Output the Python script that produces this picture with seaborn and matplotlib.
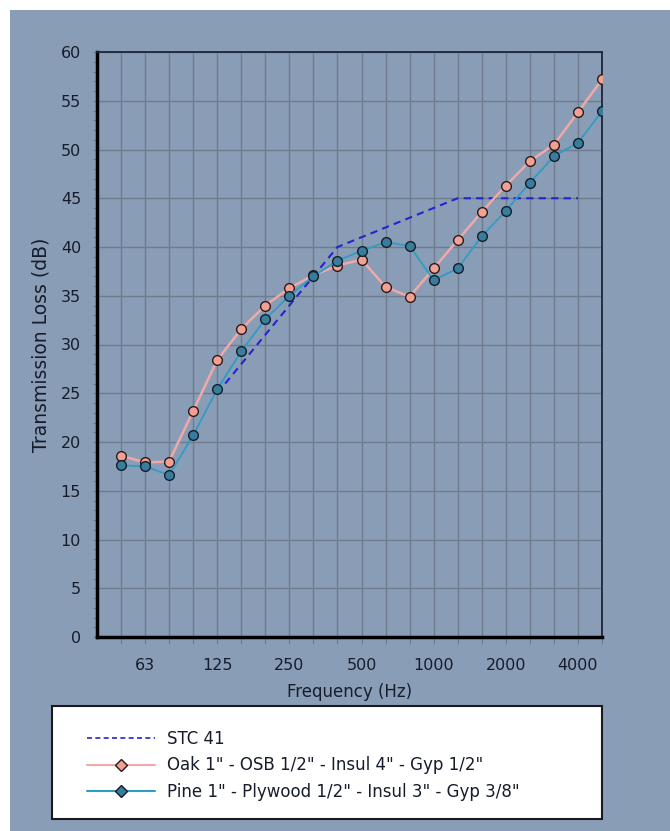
import numpy as np
import pandas as pd
import matplotlib
matplotlib.use("Agg")
import matplotlib.pyplot as plt
import seaborn as sns
from matplotlib.patches import Rectangle
from matplotlib.lines import Line2D
from matplotlib.ticker import MultipleLocator

# ---- data ----
freqs = ["50", "63", "80", "100", "125", "160", "200", "250", "315", "400", "500",
         "630", "800", "1000", "1250", "1600", "2000", "2500", "3150", "4000", "5000"]
oak = [18.6, 17.9, 18.0, 23.2, 28.4, 31.6, 34.0, 35.8, 37.1, 38.1, 38.7,
       35.9, 34.9, 37.8, 40.7, 43.6, 46.3, 48.8, 50.5, 53.8, 57.2]
pine = [17.6, 17.5, 16.6, 20.7, 25.4, 29.3, 32.6, 35.0, 37.0, 38.6, 39.6,
        40.5, 40.1, 36.6, 37.8, 41.1, 43.7, 46.6, 49.3, 50.7, 53.9]
stc_freqs = ["125", "160", "200", "250", "315", "400", "500", "630", "800", "1000",
             "1250", "1600", "2000", "2500", "3150", "4000"]
stc = [25, 28, 31, 34, 37, 40, 41, 42, 43, 44, 45, 45, 45, 45, 45, 45]
tick_labels = ["63", "125", "250", "500", "1000", "2000", "4000"]
series_names = ["STC 41",
                'Oak 1" - OSB 1/2" - Insul 4" - Gyp 1/2"',
                'Pine 1" - Plywood 1/2" - Insul 3" - Gyp 3/8"']

idx = {f: i for i, f in enumerate(freqs)}
df = pd.DataFrame({"x": [idx[f] for f in freqs], "oak": oak, "pine": pine})
df_stc = pd.DataFrame({"x": [idx[f] for f in stc_freqs], "stc": stc})

sns.set_theme(style="whitegrid")
plt.rcParams['font.family'] = ['DejaVu Sans']

BG = "#8a9db7"
GRID = "#6f7c8e"
TXT = "#161c2a"
C_STC = "#2424d0"
C_OAK_LINE = "#f0a8a8"
C_OAK_MK = "#f2a092"
C_PINE_LINE = "#2f9cc4"
C_PINE_MK = "#3a7c9e"
W, H = 670, 831

fig = plt.figure(figsize=(6.7, 8.31), dpi=100, facecolor="white")
fig.patches.append(Rectangle((10 / W, 0), 1, 1 - 10 / H, transform=fig.transFigure,
                             facecolor=BG, edgecolor="none", zorder=-10))
ax = fig.add_axes([97 / W, 1 - 637 / H, 505 / W, 585 / H])
ax.set_facecolor(BG)

sns.lineplot(data=df_stc, x="x", y="stc", ax=ax, color=C_STC, lw=1.5,
             linestyle=(0, (3.5, 2.5)), zorder=3)
sns.lineplot(data=df, x="x", y="oak", ax=ax, color=C_OAK_LINE, lw=1.8,
             marker="o", markersize=7, markerfacecolor=C_OAK_MK,
             markeredgecolor="#2a1a1a", markeredgewidth=1.0, zorder=4)
sns.lineplot(data=df, x="x", y="pine", ax=ax, color=C_PINE_LINE, lw=1.3,
             marker="o", markersize=7, markerfacecolor=C_PINE_MK,
             markeredgecolor="#10202a", markeredgewidth=1.0, zorder=5)

ax.set_xlim(-1, len(freqs) - 1)
ax.set_ylim(0, 60)
ax.set_xticks(range(len(freqs)))
ax.set_xticklabels([f if f in tick_labels else "" for f in freqs])
ax.yaxis.set_major_locator(MultipleLocator(5))
ax.yaxis.set_minor_locator(MultipleLocator(1))
ax.grid(True, which="major", color=GRID, lw=1.0)
ax.grid(False, which="minor")

ax.tick_params(axis="x", which="major", direction="out", length=5, width=0.8,
               color=GRID, pad=10, labelsize=11.5, labelcolor=TXT)
ax.tick_params(axis="y", which="major", direction="out", length=3, width=0.8,
               color=GRID, pad=8.5, labelsize=11.5, labelcolor=TXT, left=True)
ax.tick_params(axis="y", which="minor", direction="out", length=3, width=0.8,
               color=GRID, left=True)
ax.tick_params(axis="x", bottom=True)

for s in ["left", "bottom"]:
    ax.spines[s].set_color("black")
    ax.spines[s].set_linewidth(2.5)
for s in ["top", "right"]:
    ax.spines[s].set_color("#1c2636")
    ax.spines[s].set_linewidth(1.3)

ax.set_xlabel("Frequency (Hz)", fontsize=12, color=TXT, labelpad=7)
ax.set_ylabel("Transmission Loss (dB)", fontsize=13.5, color=TXT, labelpad=7)

# legend box
fig.patches.append(Rectangle((52 / W, 1 - 819 / H), 550 / W, 113 / H,
                             transform=fig.transFigure, facecolor="white",
                             edgecolor="#1a1a1a", lw=1.5, zorder=5))
handles = [
    Line2D([], [], color=C_STC, lw=1.2, linestyle=(0, (3, 2))),
    Line2D([], [], color=C_OAK_LINE, lw=1.5, marker="D", markersize=6,
           markerfacecolor=C_OAK_MK, markeredgecolor="#2a1a1a"),
    Line2D([], [], color=C_PINE_LINE, lw=1.5, marker="D", markersize=6,
           markerfacecolor=C_PINE_MK, markeredgecolor="#10202a"),
]
leg = fig.legend(handles, series_names, loc="upper left",
                 bbox_to_anchor=(87 / W, 1 - 730 / H), frameon=False,
                 fontsize=12, handlelength=4.1, handletextpad=0.7,
                 labelspacing=0.5, borderpad=0, borderaxespad=0)
for t in leg.get_texts():
    t.set_color(TXT)
leg.set_zorder(6)

fig.savefig("out.png", dpi=100, facecolor=fig.get_facecolor())
